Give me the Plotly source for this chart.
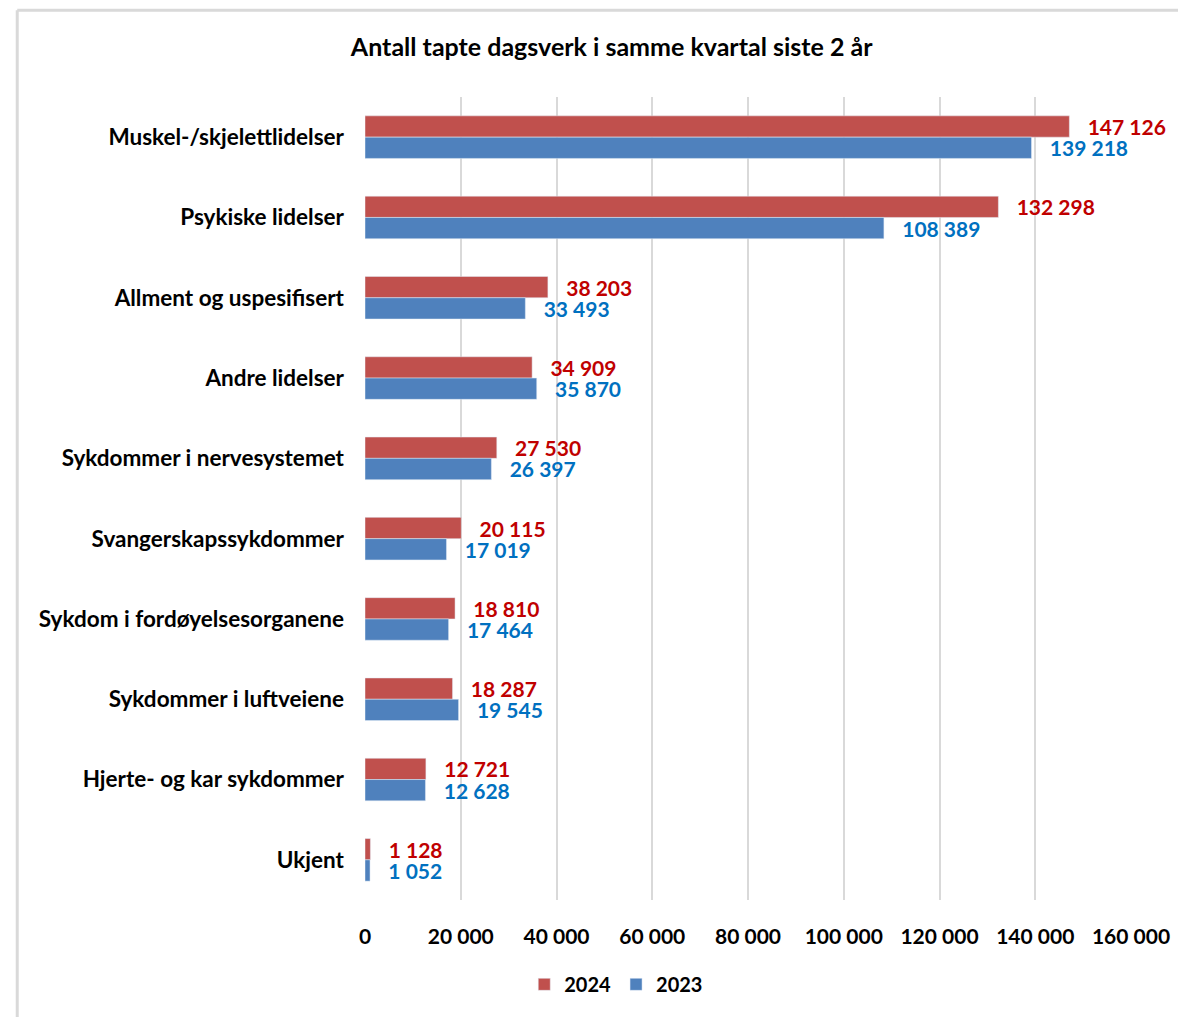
import plotly.graph_objects as go

categories = ["Muskel-/skjelettlidelser", "Psykiske lidelser", "Allment og uspesifisert",
              "Andre lidelser", "Sykdommer i nervesystemet", "Svangerskapssykdommer",
              "Sykdom i fordøyelsesorganene", "Sykdommer i luftveiene",
              "Hjerte- og kar sykdommer", "Ukjent"]
values_2024 = [147126, 132298, 38203, 34909, 27530, 20115, 18810, 18287, 12721, 1128]
values_2023 = [139218, 108389, 33493, 35870, 26397, 17019, 17464, 19545, 12628, 1052]
tick_vals = [0, 20000, 40000, 60000, 80000, 100000, 120000, 140000, 160000]


def fmt(v):
    return f"{v:,}".replace(",", " ")


PAD = "\u00a0\u00a0\u00a0"
FONT = "Lato"
fig = go.Figure()
fig.add_trace(go.Bar(
    y=categories, x=values_2024, name="2024", orientation="h",
    marker=dict(color="#C0504D"),
    text=[PAD + fmt(v) for v in values_2024], textposition="outside",
    constraintext="none",
    textfont=dict(color="#C00000", size=21, family=FONT, weight="bold"),
    cliponaxis=False,
))
fig.add_trace(go.Bar(
    y=categories, x=values_2023, name="2023", orientation="h",
    marker=dict(color="#4F81BD"),
    text=[PAD + fmt(v) for v in values_2023], textposition="outside",
    constraintext="none",
    textfont=dict(color="#0070C0", size=21, family=FONT, weight="bold"),
    cliponaxis=False,
))

fig.update_layout(
    width=1186, height=1017,
    paper_bgcolor="white", plot_bgcolor="white",
    barmode="group", bargap=0.47, bargroupgap=0,
    margin=dict(l=357, r=63, t=89, b=125),
    title=dict(text="<b>Antall tapte dagsverk i samme kvartal siste 2 år</b>",
               x=0.509, xanchor="center", y=0.961, yanchor="middle",
               font=dict(family=FONT, size=25, color="black")),
    font=dict(family=FONT, size=19, color="black"),
    legend=dict(orientation="h", x=0.328, xanchor="center", y=-0.105, yanchor="middle",
                font=dict(family=FONT, size=20, color="black", weight="bold"),
                traceorder="normal", itemwidth=30),
    showlegend=True,
)
fig.update_xaxes(
    range=[0, 160000], tickvals=tick_vals, ticktext=[fmt(v) for v in tick_vals],
    showgrid=True, gridcolor="#D9D9D9", gridwidth=2, zeroline=False,
    showline=False, ticks="", ticklabelstandoff=22,
    tickfont=dict(family=FONT, size=21, color="black", weight="bold"),
)
fig.update_yaxes(
    autorange="reversed", showgrid=False, showline=False, ticks="",
    ticklabelstandoff=20,
    tickfont=dict(family=FONT, size=22.5, color="black", weight="bold"),
)

# chart frame
fig.add_shape(type="line", xref="paper", yref="paper", x0=-0.454, x1=1.2, y0=1.108, y1=1.108,
              line=dict(color="#D9D9D9", width=3))
fig.add_shape(type="line", xref="paper", yref="paper", x0=-0.454, x1=-0.454, y0=1.108, y1=-0.3,
              line=dict(color="#D9D9D9", width=3))

fig.write_html("out.html")
